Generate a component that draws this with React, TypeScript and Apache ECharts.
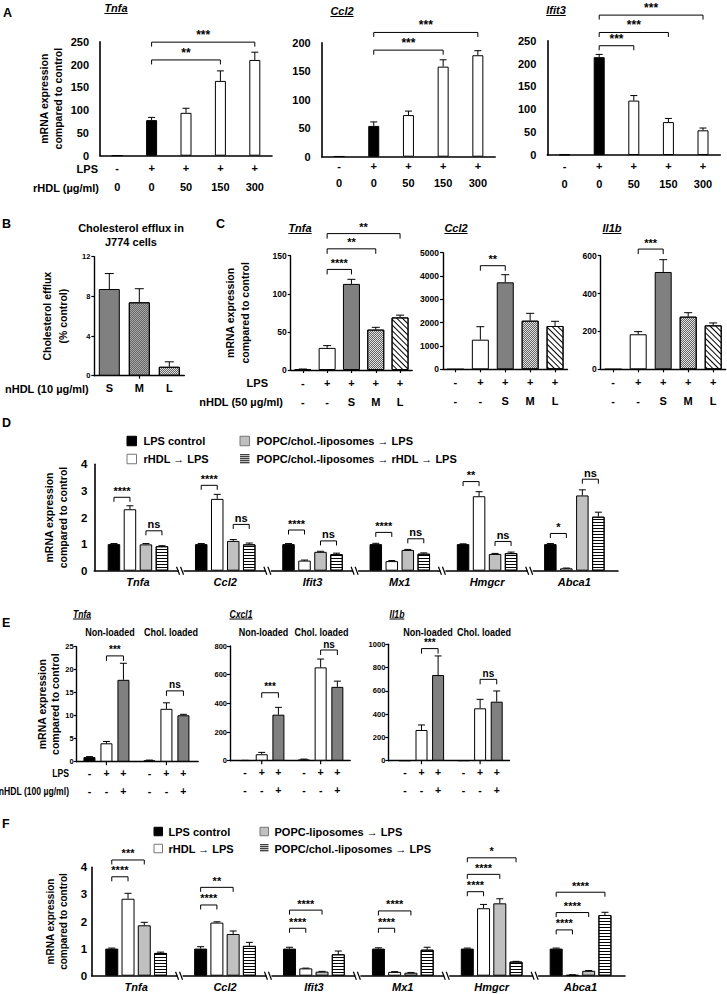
import React, { useEffect, useRef } from 'react';
import * as echarts from 'echarts';

const SANS = '"Liberation Sans", Arial, Helvetica, sans-serif';
const NARROW_SX = 0.82; // condensed look for the GraphPad-style labels

// ---------------- Panel A ----------------
const aLps = ['-', '+', '+', '+', '+'];
const aRhdl = ['0', '0', '50', '150', '300'];
const aTnfa = [0.6, 78, 94, 164, 210];
const aTnfaErr = [0, 6, 10, 22, 17];
const aCcl2 = [0.8, 54, 73, 158, 178];
const aCcl2Err = [0, 7, 7, 12, 8];
const aIfit3 = [1, 214, 119, 72, 54];
const aIfit3Err = [0, 6, 11, 8, 5];
const aTnfaSig = [{ from: 1, to: 3, y: 210, label: '**' }, { from: 1, to: 4, y: 249, label: '***' }];
const aCcl2Sig = [{ from: 1, to: 3, y: 187, label: '***' }, { from: 1, to: 4, y: 218, label: '***' }];
const aIfit3Sig = [
  { from: 1, to: 2, y: 239, label: '***' },
  { from: 1, to: 3, y: 268, label: '***' },
  { from: 1, to: 4, y: 306, label: '***' },
];

// ---------------- Panel B ----------------
const bSizes = ['S', 'M', 'L'];
const bEfflux = [8.74, 7.4, 0.9];
const bEffluxErr = [1.56, 1.37, 0.5];

// ---------------- Panel C ----------------
const cLps = ['-', '+', '+', '+', '+'];
const cNhdl = ['-', '-', 'S', 'M', 'L'];
const cTnfa = [1, 29, 113, 53, 69];
const cTnfaErr = [0.3, 3, 6, 3, 3];
const cCcl2 = [5, 1270, 3730, 2084, 1857];
const cCcl2Err = [0, 557, 327, 316, 201];
const cIl1b = [1, 185, 514, 278, 232];
const cIl1bErr = [0, 14, 65, 21, 13];
const cTnfaSig = [
  { from: 1, to: 2, y: 132, label: '****' },
  { from: 1, to: 3, y: 159, label: '**' },
  { from: 1, to: 4, y: 179, label: '**' },
];
const cCcl2Sig = [{ from: 1, to: 2, y: 4443, label: '**' }];
const cIl1bSig = [{ from: 1, to: 2, y: 635, label: '***' }];

// ---------------- Panel D ----------------
const dGenes = ['Tnfa', 'Ccl2', 'Ifit3', 'Mx1', 'Hmgcr', 'Abca1'];
const dNames = ['LPS control', 'rHDL \u2192 LPS', 'POPC/chol.-liposomes \u2192 LPS', 'POPC/chol.-liposomes \u2192 rHDL \u2192 LPS'];
const dLps = [1.0, 1.0, 1.0, 1.0, 1.0, 1.0];
const dLpsErr = [0.02, 0.02, 0.02, 0.03, 0.01, 0.02];
const dRhdl = [2.31, 2.7, 0.38, 0.36, 2.8, 0.09];
const dRhdlErr = [0.13, 0.17, 0.02, 0.02, 0.17, 0.01];
const dLipo = [0.99, 1.12, 0.71, 0.78, 0.63, 2.83];
const dLipoErr = [0.03, 0.05, 0.02, 0.02, 0.02, 0.21];
const dLipoRhdl = [0.92, 0.99, 0.62, 0.64, 0.66, 2.03];
const dLipoRhdlErr = [0.02, 0.05, 0.04, 0.03, 0.04, 0.17];
const dSig = [
  { group: 0, from: 0, to: 1, y: 2.76, label: '****' },
  { group: 0, from: 2, to: 3, y: 1.5, label: 'ns' },
  { group: 1, from: 0, to: 1, y: 3.21, label: '****' },
  { group: 1, from: 2, to: 3, y: 1.74, label: 'ns' },
  { group: 2, from: 0, to: 1, y: 1.53, label: '****' },
  { group: 2, from: 2, to: 3, y: 1.12, label: 'ns' },
  { group: 3, from: 0, to: 1, y: 1.44, label: '****' },
  { group: 3, from: 2, to: 3, y: 1.2, label: 'ns' },
  { group: 4, from: 0, to: 1, y: 3.35, label: '**' },
  { group: 4, from: 2, to: 3, y: 1.1, label: 'ns' },
  { group: 5, from: 0, to: 1, y: 1.4, label: '*' },
  { group: 5, from: 2, to: 3, y: 3.44, label: 'ns' },
];

// ---------------- Panel E ----------------
const eLps = ['-', '+', '+', '-', '+', '+'];
const eNhdl = ['-', '-', '+', '-', '-', '+'];
const eTnfa = [1.0, 4.0, 17.8, 0.3, 11.5, 10.1];
const eTnfaErr = [0.1, 0.4, 3.6, 0.05, 1.3, 0.2];
const eCxcl1 = [2, 45, 321, 8, 651, 515];
const eCxcl1Err = [0.5, 13, 51, 3, 58, 40];
const eIl1b = [0.5, 264, 736, 1, 450, 507];
const eIl1bErr = [0, 43, 164, 0, 77, 92];
const eTnfaSig = [{ from: 1, to: 2, y: 23, label: '***' }, { from: 4, to: 5, y: 15.4, label: 'ns' }];
const eCxcl1Sig = [{ from: 1, to: 2, y: 474, label: '***' }, { from: 4, to: 5, y: 772, label: 'ns' }];
const eIl1bSig = [{ from: 1, to: 2, y: 963, label: '***' }, { from: 4, to: 5, y: 699, label: 'ns' }];

// ---------------- Panel F ----------------
const fGenes = ['Tnfa', 'Ccl2', 'Ifit3', 'Mx1', 'Hmgcr', 'Abca1'];
const fNames = ['LPS control', 'rHDL \u2192 LPS', 'POPC-liposomes \u2192 LPS', 'POPC/chol.-liposomes \u2192 LPS'];
const fLps = [1.0, 1.0, 1.0, 1.0, 1.0, 1.0];
const fLpsErr = [0.02, 0.07, 0.05, 0.03, 0.02, 0.02];
const fRhdl = [2.84, 1.96, 0.27, 0.14, 2.49, 0.03];
const fRhdlErr = [0.2, 0.03, 0.01, 0.01, 0.14, 0.005];
const fPopc = [1.86, 1.54, 0.15, 0.11, 2.67, 0.18];
const fPopcErr = [0.11, 0.11, 0.01, 0.01, 0.17, 0.01];
const fChol = [0.84, 1.1, 0.79, 0.96, 0.52, 2.24];
const fCholErr = [0.03, 0.13, 0.12, 0.09, 0.01, 0.1];
const fSig = [
  { group: 0, from: 0, to: 1, y: 3.65, label: '****' },
  { group: 0, from: 0, to: 2, y: 4.27, label: '***' },
  { group: 1, from: 0, to: 1, y: 2.61, label: '****' },
  { group: 1, from: 0, to: 2, y: 3.26, label: '**' },
  { group: 2, from: 0, to: 1, y: 1.75, label: '****' },
  { group: 2, from: 0, to: 2, y: 2.42, label: '****' },
  { group: 3, from: 0, to: 1, y: 1.75, label: '****' },
  { group: 3, from: 0, to: 2, y: 2.39, label: '****' },
  { group: 4, from: 0, to: 1, y: 3.1, label: '****' },
  { group: 4, from: 0, to: 2, y: 3.74, label: '****' },
  { group: 4, from: 0, to: 3, y: 4.35, label: '*' },
  { group: 5, from: 0, to: 1, y: 1.69, label: '****' },
  { group: 5, from: 0, to: 2, y: 2.33, label: '****' },
  { group: 5, from: 0, to: 3, y: 3.08, label: '****' },
];

// ---------------- styles ----------------
const decalH = { symbol: 'rect', symbolSize: 1, dashArrayX: [1, 0], dashArrayY: [1, 2], color: '#000' };
const decalDiag = { symbol: 'rect', symbolSize: 1, dashArrayX: [1, 0], dashArrayY: [1, 2.2], rotation: Math.PI / 4, color: '#000' };
const decalCheck = { symbol: 'rect', symbolSize: 1, dashArrayX: [[1, 1], [0, 1, 1, 0]], dashArrayY: [1, 0], color: '#666' };

function barStyle(kind: string): any {
  const base = { borderColor: '#000', borderWidth: 1 };
  switch (kind) {
    case 'black': return { ...base, color: '#000' };
    case 'white': return { ...base, color: '#fff' };
    case 'dark': return { ...base, color: '#808080' };
    case 'mid': return { ...base, color: '#a8a8a8', decal: decalCheck };
    case 'light': return { ...base, color: '#c0c0c0' };
    case 'check': return { ...base, color: '#e0e0e0', decal: decalCheck };
    case 'diag': return { ...base, color: '#fff', decal: decalDiag };
    case 'hstripe': return { ...base, color: '#fff', decal: decalH };
    default: return { ...base, color: '#fff' };
  }
}

let measureCtx: any = null;
function textWidth(t: string, font: string) {
  if (!measureCtx) measureCtx = document.createElement('canvas').getContext('2d');
  measureCtx.font = font;
  return measureCtx.measureText(t).width;
}

function txt(text: string, x: number, y: number, font: string, align = 'left', sx = 1) {
  return {
    type: 'text', x, y, scaleX: sx,
    style: { text, font, fill: '#000', textAlign: align, textVerticalAlign: 'middle', align, verticalAlign: 'middle' },
  };
}
function uTitle(text: string, cx: number, cy: number, font: string, under = 5.5, sx = 1) {
  const w = textWidth(text, font) * sx;
  return {
    type: 'group',
    children: [
      txt(text, cx, cy, font, 'center', sx),
      { type: 'line', shape: { x1: cx - w / 2, y1: cy + under, x2: cx + w / 2, y2: cy + under }, style: { stroke: '#000', lineWidth: 1 } },
    ],
  };
}

const plain = (v: number) => String(v);

function buildOption() {
  const grid: any[] = [];
  const xAxis: any[] = [];
  const yAxis: any[] = [];
  const series: any[] = [];
  const graphic: any[] = [];

  const axLine = (w: number) => ({ show: true, onZero: false, lineStyle: { color: '#000', width: w } });

  function addGrid(box: any, x: any, y: any) {
    const i = grid.length;
    grid.push({ ...box, outerBoundsMode: 'none', containLabel: false, show: false });
    xAxis.push({ gridIndex: i, splitLine: { show: false }, ...x });
    yAxis.push({ gridIndex: i, type: 'value', splitLine: { show: false }, ...y });
    return i;
  }

  function errSeries(gi: number, xs: number[], means: number[], errs: number[], off: number, cap: number) {
    return {
      type: 'custom', xAxisIndex: gi, yAxisIndex: gi, z: 5, silent: true, clip: false,
      data: means.map((m, i) => [xs[i], m, errs[i]]),
      encode: { x: 0, y: 1 },
      renderItem: (params: any, api: any) => {
        const x = api.value(0), m = api.value(1), e = api.value(2);
        if (!(e > 0)) return null;
        const b = api.coord([x, m]);
        const t = api.coord([x, m + e]);
        const cx = b[0] + off;
        return {
          type: 'group',
          children: [
            { type: 'line', shape: { x1: cx, y1: b[1], x2: cx, y2: t[1] }, style: { stroke: '#000', lineWidth: 1 } },
            { type: 'line', shape: { x1: cx - cap / 2, y1: t[1], x2: cx + cap / 2, y2: t[1] }, style: { stroke: '#000', lineWidth: 1 } },
          ],
        };
      },
    };
  }

  function bracketSeries(gi: number, items: any[], tick: number, font: string) {
    return {
      type: 'custom', xAxisIndex: gi, yAxisIndex: gi, z: 6, silent: true, clip: false,
      data: items.map((b) => [b.x1, b.x2, b.y]),
      encode: { x: [0, 1], y: 2 },
      renderItem: (params: any, api: any) => {
        const b = items[params.dataIndex];
        const p1 = api.coord([api.value(0), api.value(2)]);
        const p2 = api.coord([api.value(1), api.value(2)]);
        const xa = p1[0] + b.o1, xb = p2[0] + b.o2, y = p1[1];
        return {
          type: 'group',
          children: [
            { type: 'polyline', shape: { points: [[xa, y + tick], [xa, y], [xb, y], [xb, y + tick]] }, style: { stroke: '#000', lineWidth: 1, fill: null } },
            { type: 'text', x: (xa + xb) / 2, y: y - 1, style: { text: b.label, font, fill: '#000', textAlign: 'center', textVerticalAlign: 'bottom', align: 'center', verticalAlign: 'bottom' } },
          ],
        };
      },
    };
  }

  // ---------- Panel A ----------
  const aBoxes = [
    { left: 100, top: 41.7, width: 172, height: 114 },
    { left: 321.7, top: 42.7, width: 173.5, height: 114 },
    { left: 547.3, top: 40.7, width: 173, height: 114.3 },
  ];
  const aSets = [
    { vals: aTnfa, errs: aTnfaErr, sig: aTnfaSig, max: 250, margin: 3.1, lh: 19 },
    { vals: aCcl2, errs: aCcl2Err, sig: aCcl2Sig, max: 200, margin: 1, lh: 17 },
    { vals: aIfit3, errs: aIfit3Err, sig: aIfit3Sig, max: 250, margin: 1.7, lh: 18 },
  ];
  aSets.forEach((s, k) => {
    const gi = addGrid(
      aBoxes[k],
      {
        type: 'category', data: aLps.map((l, i) => l + '\n' + aRhdl[i]),
        axisLine: axLine(1.6), axisTick: { show: false },
        axisLabel: { interval: 0, color: '#000', fontWeight: 'bold', fontSize: 11, fontFamily: SANS, lineHeight: s.lh, margin: s.margin },
      },
      {
        min: 0, max: s.max, interval: 50, axisLine: axLine(1.6), axisTick: { show: false },
        axisLabel: { color: '#000', fontWeight: 'bold', fontSize: 11, fontFamily: SANS, margin: 11, formatter: plain },
        ...(k === 0
          ? { name: 'mRNA expression\ncompared to control', nameLocation: 'middle', nameRotate: 90, nameGap: 35, nameTextStyle: { color: '#000', fontWeight: 'bold', fontSize: 10.5, fontFamily: SANS, lineHeight: 14 } }
          : {}),
      }
    );
    series.push({
      type: 'bar', xAxisIndex: gi, yAxisIndex: gi, barWidth: 11,
      data: s.vals.map((v, i) => ({ value: v, itemStyle: barStyle(i === 1 ? 'black' : 'white') })),
    });
    series.push(errSeries(gi, s.vals.map((_, i) => i), s.vals, s.errs, 0, 7));
    series.push(bracketSeries(gi, s.sig.map((b) => ({ x1: b.from, x2: b.to, o1: 0, o2: 0, y: b.y, label: b.label })), 4.5, 'bold 12px ' + SANS));
  });

  // ---------- Panel B ----------
  {
    const gi = addGrid(
      { left: 94.3, top: 256.7, width: 90, height: 119 },
      {
        type: 'category', data: bSizes, axisLine: axLine(1.4),
        axisTick: { show: true, alignWithLabel: true, length: 3, interval: (i: number) => i === 1, lineStyle: { color: '#000', width: 1.2 } },
        axisLabel: { interval: 0, color: '#000', fontWeight: 'bold', fontSize: 11, fontFamily: SANS, margin: 7 },
      },
      {
        min: 0, max: 12, interval: 4, axisLine: axLine(1.4),
        axisTick: { show: true, length: 3, lineStyle: { color: '#000', width: 1.2 } },
        axisLabel: { color: '#000', fontWeight: 'bold', fontSize: 7.5, fontFamily: SANS, margin: 4, formatter: plain },
        name: 'Cholesterol efflux\n(% control)', nameLocation: 'middle', nameRotate: 90, nameGap: 23,
        nameTextStyle: { color: '#000', fontWeight: 'bold', fontSize: 10.5, fontFamily: SANS, lineHeight: 16 },
      }
    );
    const kinds = ['dark', 'mid', 'check'];
    series.push({
      type: 'bar', xAxisIndex: gi, yAxisIndex: gi, barWidth: 21,
      data: bEfflux.map((v, i) => ({ value: v, itemStyle: barStyle(kinds[i]) })),
    });
    series.push(errSeries(gi, bEfflux.map((_, i) => i), bEfflux, bEffluxErr, 0, 9));
  }

  // ---------- Panel C ----------
  const cBoxes = [
    { left: 290.7, top: 255.7, width: 121.5, height: 114.3 },
    { left: 443, top: 252.7, width: 124.5, height: 116.6 },
    { left: 600.7, top: 255.7, width: 125, height: 113.6 },
  ];
  const cSets = [
    { vals: cTnfa, errs: cTnfaErr, sig: cTnfaSig, max: 150, int: 50 },
    { vals: cCcl2, errs: cCcl2Err, sig: cCcl2Sig, max: 5000, int: 1000 },
    { vals: cIl1b, errs: cIl1bErr, sig: cIl1bSig, max: 600, int: 200 },
  ];
  const cKinds = ['black', 'white', 'dark', 'check', 'diag'];
  cSets.forEach((s, k) => {
    const gi = addGrid(
      cBoxes[k],
      {
        type: 'category', data: cLps.map((l, i) => l + '\n' + cNhdl[i]), axisLine: axLine(1.4),
        axisTick: { show: true, alignWithLabel: true, length: 3, lineStyle: { color: '#000', width: 1.2 } },
        axisLabel: { interval: 0, color: '#000', fontWeight: 'bold', fontSize: 11, fontFamily: SANS, lineHeight: 19, margin: 3.5 },
      },
      {
        min: 0, max: s.max, interval: s.int, axisLine: axLine(1.4),
        axisTick: { show: true, length: 3, lineStyle: { color: '#000', width: 1.2 } },
        axisLabel: { color: '#000', fontWeight: 'bold', fontSize: 8.5, fontFamily: SANS, margin: 4, formatter: plain },
        ...(k === 0
          ? { name: 'mRNA expression\ncompared to control', nameLocation: 'middle', nameRotate: 90, nameGap: 38, nameTextStyle: { color: '#000', fontWeight: 'bold', fontSize: 10.5, fontFamily: SANS, lineHeight: 15 } }
          : {}),
      }
    );
    series.push({
      type: 'bar', xAxisIndex: gi, yAxisIndex: gi, barWidth: 17,
      data: s.vals.map((v, i) => ({ value: v, itemStyle: barStyle(cKinds[i]) })),
    });
    series.push(errSeries(gi, s.vals.map((_, i) => i), s.vals, s.errs, 0, 8));
    series.push(bracketSeries(gi, s.sig.map((b) => ({ x1: b.from, x2: b.to, o1: 0, o2: 0, y: b.y, label: b.label })), 5, 'bold 11px ' + SANS));
  });

  // ---------- grouped panels D & F ----------
  function groupedPanel(box: any, genes: string[], names: string[], vals: number[][], errs: number[][], sig: any[], kinds: string[], bw: number, gap: number, yName: any, labelMargin: number) {
    const gi = addGrid(
      box,
      {
        type: 'category', data: genes, axisLine: axLine(1.6), axisTick: { show: false },
        axisLabel: { interval: 0, color: '#000', fontWeight: 'bold', fontStyle: 'italic', fontSize: 11, fontFamily: SANS, margin: labelMargin },
      },
      {
        min: 0, max: 4, interval: 1, axisLine: axLine(1.6), axisTick: { show: false },
        axisLabel: { color: '#000', fontWeight: 'bold', fontSize: 11.5, fontFamily: SANS, margin: yName.labelMargin },
        name: 'mRNA expression\ncompared to control', nameLocation: 'middle', nameRotate: 90, nameGap: yName.gap,
        nameTextStyle: { color: '#000', fontWeight: 'bold', fontSize: yName.size, fontFamily: SANS, lineHeight: yName.lh },
      }
    );
    const n = vals.length;
    const step = bw * (1 + gap);
    const total = n * bw + (n - 1) * bw * gap;
    const offs = vals.map((_, i) => -total / 2 + bw / 2 + i * step);
    vals.forEach((v, s) => {
      series.push({
        type: 'bar', name: names[s], xAxisIndex: gi, yAxisIndex: gi, barWidth: bw, barGap: gap * 100 + '%',
        itemStyle: barStyle(kinds[s]), data: v,
      });
    });
    vals.forEach((v, s) => series.push(errSeries(gi, v.map((_, i) => i), v, errs[s], offs[s], 7)));
    series.push(bracketSeries(gi, sig.map((b) => ({ x1: b.group, x2: b.group, o1: offs[b.from], o2: offs[b.to], y: b.y, label: b.label })), 4.5, 'bold 11px ' + SANS));
    // axis breaks between gene groups
    series.push({
      type: 'custom', xAxisIndex: gi, yAxisIndex: gi, z: 7, silent: true, clip: false,
      data: genes.slice(1).map((_, i) => [i, 0]),
      renderItem: (params: any, api: any) => {
        const i = api.value(0);
        const a = api.coord([i, 0]);
        const b = api.coord([i + 1, 0]);
        const mx = (a[0] + b[0]) / 2, y = a[1];
        return {
          type: 'group',
          children: [
            { type: 'rect', shape: { x: mx - 3, y: y - 2, width: 5, height: 4 }, style: { fill: '#fff' } },
            { type: 'line', shape: { x1: mx - 5, y1: y - 4, x2: mx - 2, y2: y + 4 }, style: { stroke: '#000', lineWidth: 1.2 } },
            { type: 'line', shape: { x1: mx - 1, y1: y - 4, x2: mx + 2, y2: y + 4 }, style: { stroke: '#000', lineWidth: 1.2 } },
          ],
        };
      },
    });
    return gi;
  }

  groupedPanel(
    { left: 94.3, top: 464.3, width: 523.7, height: 106.4 }, dGenes, dNames,
    [dLps, dRhdl, dLipo, dLipoRhdl], [dLpsErr, dRhdlErr, dLipoErr, dLipoRhdlErr], dSig,
    ['black', 'white', 'light', 'hstripe'], 12.5, 0.28, { gap: 20, size: 10.5, lh: 14, labelMargin: 7 }, 5.5
  );
  groupedPanel(
    { left: 91.7, top: 867.3, width: 533.3, height: 108.4 }, fGenes, fNames,
    [fLps, fRhdl, fPopc, fChol], [fLpsErr, fRhdlErr, fPopcErr, fCholErr], fSig,
    ['black', 'white', 'light', 'hstripe'], 13, 0.25, { gap: 17, size: 10, lh: 13, labelMargin: 4.5 }, 5.5
  );

  // ---------- Panel E ----------
  const G = 3.53;
  const ePos = [0, 1, 2, G, G + 1, G + 2];
  const eBoxes = [
    { left: 76.7, top: 646.7, width: 121.5, height: 115 },
    { left: 230, top: 646, width: 120.2, height: 114.7 },
    { left: 388.3, top: 644.3, width: 121.2, height: 116.4 },
  ];
  const eRanges = [[-0.75, 6.4], [-0.9, 6.3], [-1.0, 6.3]];
  const eSets = [
    { vals: eTnfa, errs: eTnfaErr, sig: eTnfaSig, max: 25, int: 5 },
    { vals: eCxcl1, errs: eCxcl1Err, sig: eCxcl1Sig, max: 800, int: 200 },
    { vals: eIl1b, errs: eIl1bErr, sig: eIl1bSig, max: 1000, int: 200 },
  ];
  const eKinds = ['black', 'white', 'dark', 'black', 'white', 'dark'];
  const eFont = 'bold 10.5px ' + SANS;
  eSets.forEach((s, k) => {
    const gi = addGrid(
      eBoxes[k],
      { type: 'value', min: eRanges[k][0], max: eRanges[k][1], axisLine: axLine(1.4), axisTick: { show: false }, axisLabel: { show: false } },
      {
        min: 0, max: s.max, interval: s.int, axisLine: axLine(1.4),
        axisTick: { show: true, length: 3, lineStyle: { color: '#000', width: 1.2 } },
        axisLabel: { color: '#000', fontWeight: 'bold', fontSize: 7.5, fontFamily: SANS, margin: 3, formatter: plain },
        ...(k === 0
          ? { name: 'mRNA expression\ncompared to control', nameLocation: 'middle', nameRotate: 90, nameGap: 12, nameTextStyle: { color: '#000', fontWeight: 'bold', fontSize: 10.5, fontFamily: SANS, lineHeight: 13 } }
          : {}),
      }
    );
    series.push({
      type: 'bar', xAxisIndex: gi, yAxisIndex: gi, barWidth: 12,
      data: s.vals.map((v, i) => ({ value: [ePos[i], v], itemStyle: barStyle(eKinds[i]) })),
    });
    series.push(errSeries(gi, ePos, s.vals, s.errs, 0, 7));
    series.push(bracketSeries(gi, s.sig.map((b) => ({ x1: ePos[b.from], x2: ePos[b.to], o1: 0, o2: 0, y: b.y, label: b.label })), 5, 'bold 10px ' + SANS));
    // condition labels under each bar
    series.push({
      type: 'custom', xAxisIndex: gi, yAxisIndex: gi, z: 7, silent: true, clip: false,
      data: ePos.map((x) => [x, 0]),
      renderItem: (params: any, api: any) => {
        const p = api.coord([api.value(0), 0]);
        const i = params.dataIndex;
        const st = (t: string) => ({ text: t, font: eFont, fill: '#000', textAlign: 'center', textVerticalAlign: 'middle', align: 'center', verticalAlign: 'middle' });
        return {
          type: 'group',
          children: [
            { type: 'text', x: p[0], y: p[1] + 11.5, style: st(eLps[i]) },
            { type: 'text', x: p[0], y: p[1] + 29.5, style: st(eNhdl[i]) },
          ],
        };
      },
    });
    // group ticks
    series.push({
      type: 'custom', xAxisIndex: gi, yAxisIndex: gi, z: 7, silent: true, clip: false,
      data: [[(ePos[0] + ePos[2]) / 2, 0], [(ePos[3] + ePos[5]) / 2, 0]],
      renderItem: (params: any, api: any) => {
        const p = api.coord([api.value(0), 0]);
        return { type: 'line', shape: { x1: p[0], y1: p[1], x2: p[0], y2: p[1] + 3.5 }, style: { stroke: '#000', lineWidth: 1.2 } };
      },
    });
  });

  // ---------- texts ----------
  const letter = 'bold 12.5px ' + SANS;
  graphic.push(txt('A', 3, 13, letter), txt('B', 2, 224, letter), txt('C', 216, 224, letter), txt('D', 2, 423, letter), txt('E', 2, 623, letter), txt('F', 2, 824, letter));

  const ti = 'italic bold 11px ' + SANS;
  graphic.push(uTitle('Tnfa', 116, 8, ti), uTitle('Ccl2', 342, 11, ti), uTitle('Ifit3', 556, 10, ti));
  graphic.push(uTitle('Tnfa', 300, 228, ti), uTitle('Ccl2', 456, 228, ti), uTitle('Il1b', 612, 228, ti));
  const tiE = 'italic bold 10.5px ' + SANS;
  graphic.push(uTitle('Tnfa', 82, 614, tiE, 5, NARROW_SX), uTitle('Cxcl1', 241, 614, tiE, 5, NARROW_SX), uTitle('Il1b', 397, 614, tiE, 5, NARROW_SX));

  const rowF = 'bold 11px ' + SANS;
  graphic.push(txt('LPS', 98, 168.5, rowF, 'right'), txt('rHDL (\u00b5g/ml)', 99, 188, rowF, 'right'));
  graphic.push(txt('Cholesterol efflux in', 131, 228, 'bold 11px ' + SANS, 'center'), txt('J774 cells', 131, 241.5, 'bold 11px ' + SANS, 'center'));
  graphic.push(txt('nHDL (10 \u00b5g/ml)', 5, 389, rowF));
  graphic.push(txt('LPS', 268, 383, rowF, 'right'), txt('nHDL (50 \u00b5g/ml)', 283, 402, rowF, 'right'));
  graphic.push(txt('LPS', 69, 773, eFont, 'right', NARROW_SX), txt('nHDL (100 \u00b5g/ml)', 69, 791, eFont, 'right', NARROW_SX));

  const subF = 'bold 11px ' + SANS;
  [[110, 171], [263.5, 321.5], [428, 484]].forEach(([a, b]) => {
    graphic.push(txt('Non-loaded', a, 632, subF, 'center', NARROW_SX), txt('Chol. loaded', b, 632, subF, 'center', NARROW_SX));
  });

  // legends
  function legendItem(name: string, kind: string, x: number, y: number, size: number, gap: number) {
    const fill = kind === 'black' ? '#000' : kind === 'light' ? '#c0c0c0' : '#fff';
    const stroke = kind === 'black' ? '#000' : kind === 'hstripe' ? 'none' : '#777';
    const children: any[] = [{ type: 'rect', shape: { x, y: y - size / 2, width: size, height: size }, style: { fill, stroke, lineWidth: 1 } }];
    if (kind === 'hstripe') {
      for (let k = 0.5; k < size; k += 2) {
        children.push({ type: 'line', shape: { x1: x, y1: y - size / 2 + k, x2: x + size, y2: y - size / 2 + k }, style: { stroke: '#000', lineWidth: 1 } });
      }
    }
    children.push(txt(name, x + size + gap, y, 'bold 11px ' + SANS));
    return { type: 'group', children };
  }
  const legKinds = ['black', 'white', 'light', 'hstripe'];
  const dLeg = [[127, 441], [127, 459], [240, 441], [240, 459]];
  dNames.forEach((nm, i) => graphic.push(legendItem(nm, legKinds[i], dLeg[i][0], dLeg[i][1], 9.5, 7)));
  const fLeg = [[154, 831.5], [154, 848.5], [260, 831.5], [260, 848.5]];
  fNames.forEach((nm, i) => graphic.push(legendItem(nm, legKinds[i], fLeg[i][0], fLeg[i][1], 8.5, 6)));

  return {
    animation: false,
    backgroundColor: '#fff',
    textStyle: { fontFamily: SANS, color: '#000' },
    grid, xAxis, yAxis, series, graphic,
  };
}

export default function App() {
  const ref = useRef<HTMLDivElement>(null);
  useEffect(() => {
    if (!ref.current) return;
    const chart = echarts.init(ref.current, null, { renderer: 'svg' });
    chart.setOption(buildOption() as any);
    return () => chart.dispose();
  }, []);
  return <div ref={ref} style={{ position: 'absolute', left: 0, top: 0, width: 727, height: 994, background: '#fff' }} />;
}
